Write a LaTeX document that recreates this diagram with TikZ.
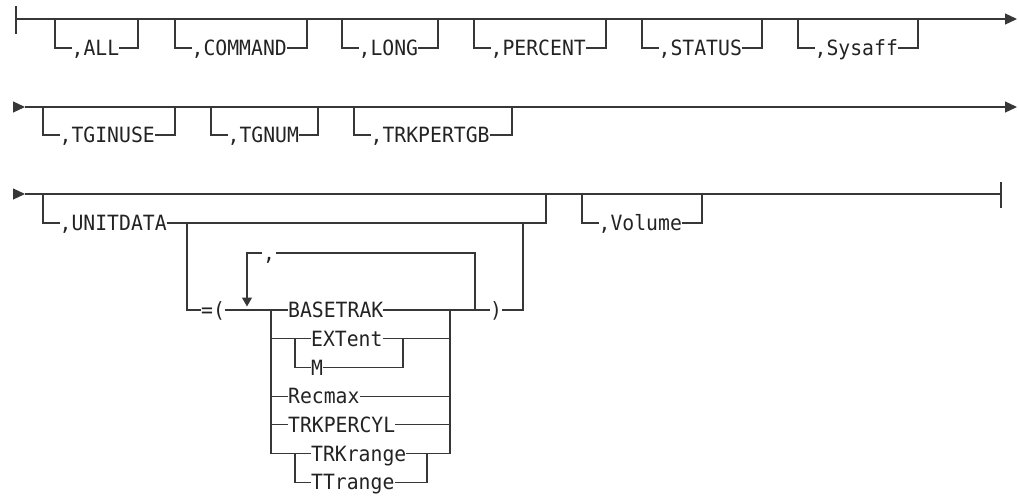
\documentclass[tikz,border=0pt]{standalone}
\usepackage{fontspec}
\usetikzlibrary{arrows.meta}
\newfontfamily\railfont[FakeStretch=0.94]{DejaVu Sans Mono}
\definecolor{railc}{RGB}{55,55,55}
\definecolor{txtc}{RGB}{35,35,35}
\tikzset{
  rail/.style={draw=railc, line width=1.2pt, line join=miter},
  thick rail/.style={draw=railc, line width=2.6pt},
  lbl/.style={font=\railfont\fontsize{21}{25}\selectfont, text=txtc, inner xsep=0pt, inner ysep=0pt, text height=15.3pt, text depth=0pt, anchor=west},
  tipr/.style={-{Triangle[length=12pt,width=11pt]}},
  tipd/.style={-{Triangle[length=9pt,width=10pt]}},
}
% name, x1, x2, ymain, ybottom, text
\newcommand\optitem[6]{%
  \coordinate (#1-a) at (#2,#4);
  \coordinate (#1-b) at (#2,#5);
  \node[lbl] (#1) at ({#2+16.5},#5) {#6};
  \coordinate (#1-c) at (#3,#5);
  \coordinate (#1-d) at (#3,#4);
  \draw[rail] (#1-a) -- (#1-b) -- (#1.west);
  \draw[rail] (#1.east) -- (#1-c) -- (#1-d);
}
\begin{document}
\begin{tikzpicture}[x=1pt,y=-1pt]
\useasboundingbox (0,0) rectangle (1019,498);

% ---------- row 1 ----------
\coordinate (r1bt) at (16,6);
\coordinate (r1bb) at (16,34);
\coordinate (r1s) at (16,19);
\coordinate (r1e) at (1017,19);
\coordinate (r1d1) at (25,19);
\coordinate (r1d2) at (32,19);
\draw[rail] (r1bt) -- (r1bb);
\draw[rail,tipr] (r1s) -- (r1e);
\draw[thick rail] (r1d1) -- (r1d2);
\optitem{all}{55}{138}{19}{48}{,ALL}
\optitem{cmd}{175}{307}{19}{48}{,COMMAND}
\optitem{long}{342}{438}{19}{48}{,LONG}
\optitem{pct}{474}{606}{19}{48}{,PERCENT}
\optitem{stat}{642}{762}{19}{48}{,STATUS}
\optitem{sys}{798}{918}{19}{48}{,Sysaff}

% ---------- row 2 ----------
\coordinate (r2a) at (13,107);
\coordinate (r2s) at (25,107);
\coordinate (r2e) at (1017,107);
\draw[rail,tipr] (r2a) -- (r2s);
\draw[rail,tipr] (r2s) -- (r2e);
\optitem{tgin}{43}{175}{107}{135}{,TGINUSE}
\optitem{tgn}{211}{318}{107}{135}{,TGNUM}
\optitem{tpg}{354}{512}{107}{135}{,TRKPERTGB}

% ---------- row 3 ----------
\coordinate (r3a) at (13,194);
\coordinate (r3s) at (25,194);
\coordinate (r3e) at (1001,194);
\coordinate (r3bt) at (1001,182);
\coordinate (r3bb) at (1001,208);
\coordinate (r3d1) at (707,194);
\coordinate (r3d2) at (732,194);
\draw[rail,tipr] (r3a) -- (r3s);
\draw[rail] (r3s) -- (r3e);
\draw[rail] (r3bt) -- (r3bb);
\draw[thick rail] (r3d1) -- (r3d2);
\optitem{unit}{43}{546}{194}{223}{,UNITDATA}
\optitem{vol}{582}{702}{194}{223}{,Volume}

% ---------- =( ... ) sub-branch ----------
\def\ya{310}\def\yb{338.7}\def\yc{367.4}\def\yd{396.1}\def\ye{424.8}\def\yf{453.5}\def\yg{482.2}
\coordinate (sub-t) at (187,223);
\coordinate (sub-b) at (187,\ya);
\node[lbl] (eq) at (201,\ya) {=(};
\node[lbl] (rp) at (490,\ya) {)};
\coordinate (q-b) at (523,\ya);
\coordinate (q-t) at (523,223);
\draw[rail] (sub-t) -- (sub-b) -- (eq.west);
\draw[rail] (rp.east) -- (q-b) -- (q-t);

% repeat loop
\coordinate (lp-tip) at (247,306.5);
\coordinate (lp-tl) at (247,253);
\node[lbl, inner xsep=1pt] (sep) at (262,253) {,};
\coordinate (lp-tr) at (475,253);
\coordinate (lp-br) at (475,\ya);
\draw[rail,tipd] (sep.west) -- (lp-tl) -- (lp-tip);
\draw[rail] (sep.east) -- (lp-tr) -- (lp-br);

% choice stack
\coordinate (cl-top) at (271,\ya);
\coordinate (cl-bot) at (271,\yf);
\coordinate (cr-top) at (450,\ya);
\coordinate (cr-bot) at (450,\yf);
\draw[rail] (cl-top) -- (cl-bot);
\draw[rail] (cr-top) -- (cr-bot);

\node[lbl] (base) at (288,\ya) {BASETRAK};
\node[lbl] (ext)  at (311,\yb) {EXTent};
\node[lbl] (mm)   at (311,\yc) {M};
\node[lbl] (rec)  at (288,\yd) {Recmax};
\node[lbl] (tpc)  at (288,\ye) {TRKPERCYL};
\node[lbl] (trk)  at (311,\yf) {TRKrange};
\node[lbl] (ttr)  at (311,\yg) {TTrange};

\draw[rail] (eq.east) -- (base.west);
\draw[rail] (base.east) -- (rp.west);

\coordinate (cl1) at (271,\yb);
\coordinate (cr1) at (450,\yb);
\coordinate (g1l) at (295,\yb);
\coordinate (g1lb) at (295,\yc);
\coordinate (g1r) at (403,\yb);
\coordinate (g1rb) at (403,\yc);
\draw[rail] (cl1) -- (ext.west);
\draw[rail] (ext.east) -- (cr1);
\draw[rail] (g1l) -- (g1lb) -- (mm.west);
\draw[rail] (mm.east) -- (g1rb) -- (g1r);

\coordinate (cl3) at (271,\yd);
\coordinate (cr3) at (450,\yd);
\draw[rail] (cl3) -- (rec.west);
\draw[rail] (rec.east) -- (cr3);

\coordinate (cl4) at (271,\ye);
\coordinate (cr4) at (450,\ye);
\draw[rail] (cl4) -- (tpc.west);
\draw[rail] (tpc.east) -- (cr4);

\coordinate (g2l) at (295,\yf);
\coordinate (g2lb) at (295,\yg);
\coordinate (g2r) at (427,\yf);
\coordinate (g2rb) at (427,\yg);
\draw[rail] (cl-bot) -- (trk.west);
\draw[rail] (trk.east) -- (cr-bot);
\draw[rail] (g2l) -- (g2lb) -- (ttr.west);
\draw[rail] (ttr.east) -- (g2rb) -- (g2r);
\end{tikzpicture}
\end{document}
